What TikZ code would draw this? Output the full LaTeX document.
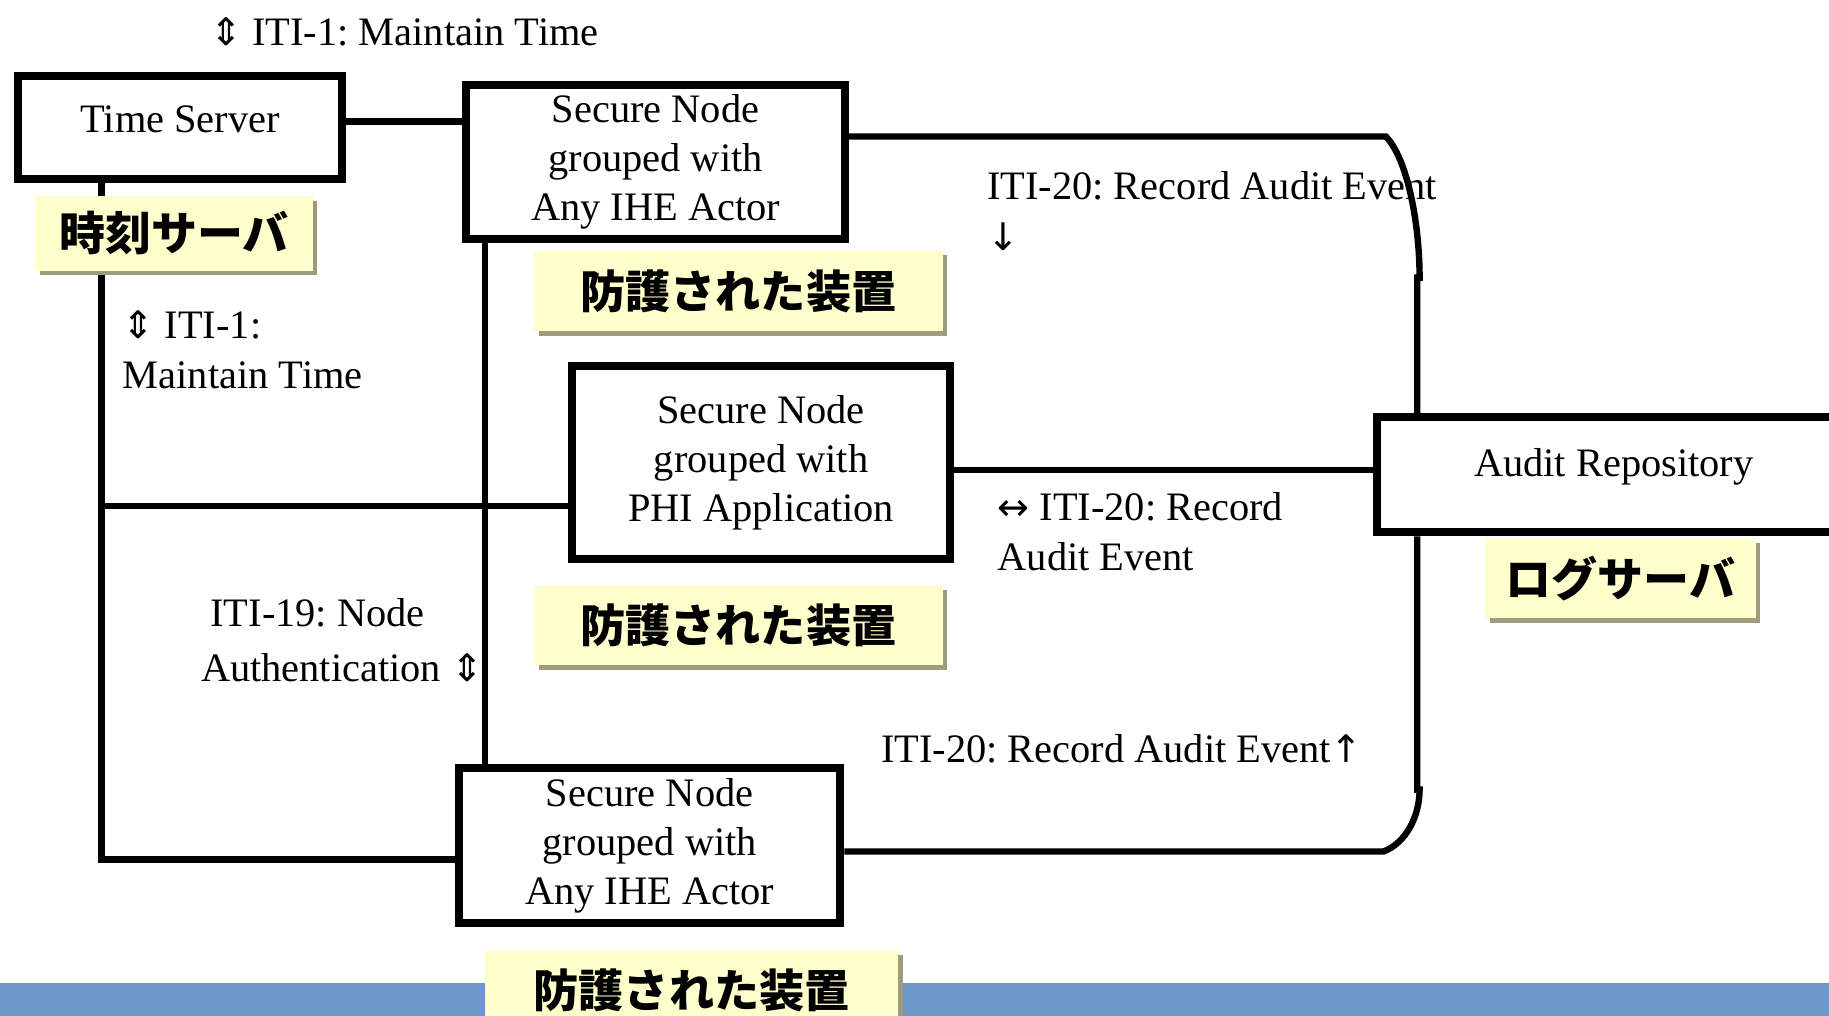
\documentclass[tikz,border=0pt]{standalone}
\usepackage{fontspec}
\setmainfont{Liberation Serif}
\newfontfamily\jpfont{Noto Sans CJK JP}
\newfontfamily\symfont{DejaVu Sans}
\usetikzlibrary{shadows}
\definecolor{jyellow}{HTML}{FFFFCC}
\definecolor{jshadow}{HTML}{9E9C7C}
\definecolor{barblue}{HTML}{6E97C9}
\newcommand{\udarrow}{{\symfont\fontsize{19}{20}\selectfont ⇕}}
\newcommand{\symarrow}[1]{{\symfont\fontsize{19}{20}\selectfont #1}}
\frenchspacing
\begin{document}
\begin{tikzpicture}[x=0.5833pt,y=-0.5833pt,
  box/.style={draw=black, line width=4pt, inner sep=0pt, align=center, fill=white,
    font=\fontsize{20.2}{24.5}\selectfont},
  conn/.style={line width=3.2pt, draw=black},
  jlbl/.style={fill=jyellow, inner sep=0pt,
    font=\jpfont\bfseries\fontsize{23}{27}\selectfont,
    drop shadow={shadow xshift=2.3pt, shadow yshift=-2.3pt, fill=jshadow, opacity=1}},
  lbl/.style={inner sep=0pt, align=left, anchor=west, font=\fontsize{20.2}{25}\selectfont}]
\useasboundingbox (0,0) rectangle (1568,871);
\clip (0,0) rectangle (1568,871);
% bottom bar
\fill[barblue] (0,843) rectangle (1568,871);
% main boxes
\node[box, minimum width=162.2pt, minimum height=51.3pt] (ts) at (154.5,109.5)
  {\raisebox{-2.3pt}[0pt][0pt]{Time Server}};
\node[box, minimum width=189.6pt, minimum height=77pt] (sn1) at (562,138.5)
  {Secure Node\\grouped with\\Any IHE Actor};
\node[box, minimum width=189pt, minimum height=96.8pt] (sn2) at (652.5,396.5)
  {Secure Node\\grouped with\\PHI Application};
\node[box, minimum width=190.7pt, minimum height=77.6pt] (sn3) at (557,725)
  {Secure Node\\grouped with\\Any IHE Actor};
\node[box, minimum width=236.8pt, minimum height=57.7pt] (ar) at (1383.5,407)
  {\raisebox{-0.9pt}[0pt][0pt]{Audit Repository}};
% connectors
\draw[conn] (ts.east |- 0,104) -- (sn1.west |- 0,104);
\draw[conn] (ts.south -| 87,0) -- (87,737) -- (sn3.west |- 0,737);
\draw[conn] (87,434) -- (sn2.west |- 0,434);
\draw[conn] (sn1.south -| 416,0) -- (sn3.north -| 416,0);
\draw[conn] (sn2.east |- 0,403) -- (ar.west |- 0,403);
\draw[conn] (sn1.east |- 0,117) -- (1188,117)
  .. controls (1206,135) and (1217,190) .. (1217,238) -- (1215,238) -- (ar.north -| 1215,0);
\draw[conn] (sn3.east |- 0,730) -- (1186,730)
  .. controls (1205,723) and (1217,700) .. (1217,677) -- (1215,677) -- (ar.south -| 1215,0);
% Japanese labels
\node[jlbl, minimum width=138.8pt, minimum height=37.3pt] (jts) at (149,200) {時刻サーバ};
\node[jlbl, minimum width=204.2pt, minimum height=40.2pt, font=\jpfont\bfseries\fontsize{22.6}{27}\selectfont] (jsn1) at (633,249.5) {防護された装置};
\node[jlbl, minimum width=204.2pt, minimum height=39.7pt, font=\jpfont\bfseries\fontsize{22.6}{27}\selectfont] (jsn2) at (633,536) {防護された装置};
\node[jlbl, minimum width=206.5pt, minimum height=39.7pt, font=\jpfont\bfseries\fontsize{22.6}{27}\selectfont] (jsn3) at (593,849) {防護された装置};
\node[jlbl, minimum width=135.3pt, minimum height=39.7pt] (jar) at (1389,496) {ログサーバ};
% interaction labels
\node[lbl] (l1) at (180,27) {\udarrow\ ITI-1: Maintain Time};
\node[lbl, font=\fontsize{20.2}{25}\selectfont] (l2) at (105,299.5) {\udarrow\ ITI-1:\\Maintain Time};
\node[lbl, font=\fontsize{20.2}{27.4}\selectfont] (l3) at (172,548.5) {\hspace*{4.7pt}ITI-19: Node\\Authentication \udarrow};
\node[lbl, font=\fontsize{20.2}{25.7}\selectfont] (l4) at (846,181) {ITI-20: Record Audit Event\\\symarrow{↓}};
\node[lbl] (l5) at (855,455.5) {\symarrow{↔} ITI-20: Record\\Audit Event};
\node[lbl] (l6) at (755,642) {ITI-20: Record Audit Event\symarrow{↑}};
\end{tikzpicture}
\end{document}
